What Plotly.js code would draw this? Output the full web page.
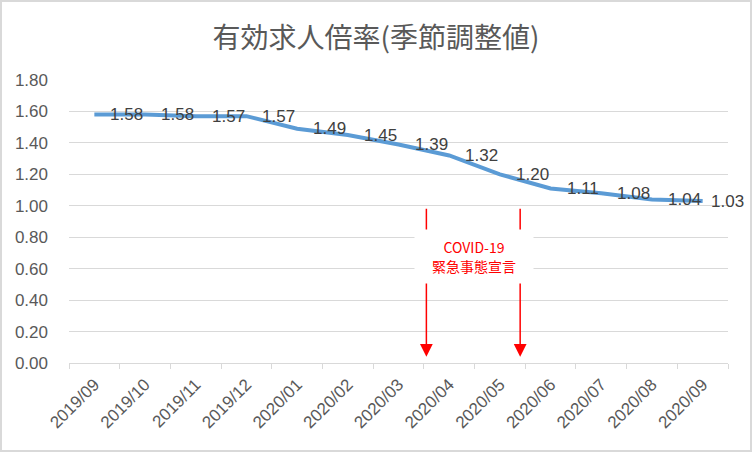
<!DOCTYPE html>
<html>
<head>
<meta charset="utf-8">
<script src="https://cdn.plot.ly/plotly-3.0.1.min.js"></script>
<style>
  html, body { margin: 0; padding: 0; background: #fff; }
  #chart { width: 752px; height: 452px; box-sizing: border-box; border: 2px solid #d9d9d9; }
</style>
</head>
<body>
<div id="chart"></div>
<script>
const months = ["2019/09","2019/10","2019/11","2019/12","2020/01","2020/02","2020/03","2020/04","2020/05","2020/06","2020/07","2020/08","2020/09"];
const ratio = [1.58,1.58,1.57,1.57,1.49,1.45,1.39,1.32,1.20,1.11,1.08,1.04,1.03];
const yTicks = [0,0.2,0.4,0.6,0.8,1.0,1.2,1.4,1.6,1.8];
const titleText = "有効求人倍率(季節調整値)";
const noteLines = ["COVID-19","緊急事態宣言"];
const arrowX = [6.55, 8.40];   // category-index positions of the two arrows
const arrowTop = 0.99;
const arrowTip = 0.04;
const notePos = {x: 7.48, y: 0.677};

const fontLatin = "Liberation Sans, Arial, sans-serif";
const fontCJK = "Noto Sans CJK JP, Noto Sans, sans-serif";

const trace = {
  x: months,
  y: ratio,
  type: "scatter",
  mode: "lines",
  line: {color: "#5B9BD5", width: 4},
  hoverinfo: "x+y",
  cliponaxis: false
};

const annotations = [];
ratio.forEach((v, i) => {
  annotations.push({
    x: i, y: v, xref: "x", yref: "y",
    text: v.toFixed(2), showarrow: false,
    xanchor: "left", yanchor: "middle",
    xshift: i === ratio.length - 1 ? 6 : 14, yshift: 0,
    font: {family: fontLatin, size: 17, color: "#404040"}
  });
});
arrowX.forEach(ax => {
  annotations.push({
    x: ax, y: arrowTip, xref: "x", yref: "y",
    ax: ax, ay: arrowTop, axref: "x", ayref: "y",
    showarrow: true, arrowhead: 2, arrowsize: 1.7, arrowwidth: 1.5,
    arrowcolor: "#FF0000", text: ""
  });
});
annotations.push({
  x: notePos.x, y: notePos.y, xref: "x", yref: "y",
  text: noteLines.join("<br>"), showarrow: false,
  bgcolor: "#FFFFFF", width: 118, height: 53, borderpad: 0,
  align: "center", valign: "middle",
  font: {family: fontCJK, size: 14, color: "#FF0000"}
});

const layout = {
  width: 748, height: 448,
  margin: {l: 67, r: 22, t: 78, b: 87},
  paper_bgcolor: "#FFFFFF", plot_bgcolor: "#FFFFFF",
  showlegend: false,
  title: {
    text: titleText,
    x: 0.5, xanchor: "center", xref: "container",
    y: 0.92, yanchor: "middle", yref: "container",
    font: {family: fontCJK, size: 28, color: "#595959"}
  },
  xaxis: {
    type: "category",
    range: [-0.5, months.length - 0.5],
    tickangle: -45,
    tickson: "boundaries",
    ticks: "outside", ticklen: 5, tickcolor: "#D9D9D9", tickwidth: 1,
    showgrid: false, zeroline: false,
    showline: true, linecolor: "#D9D9D9", linewidth: 1,
    ticklabelstandoff: 4,
    tickfont: {family: fontLatin, size: 17, color: "#595959"},
    fixedrange: true
  },
  yaxis: {
    range: [0, 1.8],
    tickmode: "array",
    tickvals: yTicks,
    ticktext: yTicks.map(v => v.toFixed(2)),
    showgrid: true, gridcolor: "#D9D9D9", gridwidth: 1,
    zeroline: false, showline: false, ticks: "",
    ticklabelstandoff: 20,
    tickfont: {family: fontLatin, size: 17, color: "#595959"},
    fixedrange: true
  },
  annotations: annotations
};

Plotly.newPlot("chart", [trace], layout, {displayModeBar: false, staticPlot: true});
</script>
</body>
</html>
